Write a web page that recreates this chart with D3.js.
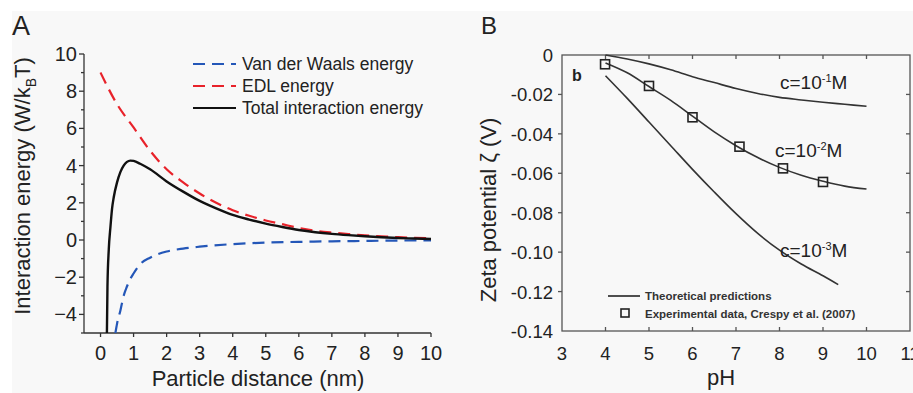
<!DOCTYPE html>
<html>
<head>
<meta charset="utf-8">
<script src="https://cdn.jsdelivr.net/npm/d3@7"></script>
<style>
  body { margin: 0; background: #fff; }
  svg { display: block; font-family: "Liberation Sans", Arial, sans-serif; }
</style>
</head>
<body>
<script>

// ---- panel A data ----
var distTicks = [0, 1, 2, 3, 4, 5, 6, 7, 8, 9, 10];
var energyTicks = [-4, -2, 0, 2, 4, 6, 8, 10];
var energyMinor = [-5, -3, -1, 1, 3, 5, 7, 9];

var vdwX = [0.45, 0.5, 0.6, 0.7, 0.8, 0.9, 1.0, 1.2, 1.5, 2, 2.5, 3, 4, 5, 6, 7, 8, 9, 10];
var vdwY = [-5.0, -4.5, -3.8, -3.0, -2.5, -2.1, -1.8, -1.3, -0.95, -0.62, -0.46, -0.36, -0.22, -0.14, -0.1, -0.07, -0.05, -0.03, -0.02];

var edlX = [0, 0.5, 1, 1.5, 2, 2.5, 3, 3.5, 4, 4.5, 5, 5.5, 6, 6.5, 7, 7.5, 8, 8.5, 9, 9.5, 10];
var edlY = [9.0, 7.3, 6.05, 4.8, 3.8, 3.1, 2.5, 2.0, 1.6, 1.3, 1.05, 0.85, 0.65, 0.5, 0.4, 0.32, 0.25, 0.2, 0.15, 0.12, 0.09];

var totalX = [0.19, 0.21, 0.25, 0.3, 0.35, 0.4, 0.5, 0.6, 0.7, 0.8, 0.9, 1.0, 1.2, 1.5, 2, 2.5, 3, 3.5, 4, 4.5, 5, 5.5, 6, 6.5, 7, 7.5, 8, 8.5, 9, 9.5, 10];
var totalY = [-5.5, -2.5, -0.5, 0.7, 1.7, 2.3, 3.1, 3.65, 4.0, 4.2, 4.27, 4.25, 4.1, 3.8, 3.15, 2.6, 2.1, 1.7, 1.35, 1.1, 0.88, 0.7, 0.54, 0.42, 0.33, 0.26, 0.2, 0.15, 0.11, 0.08, 0.05];

// ---- panel B data ----
var phTicks = [3, 4, 5, 6, 7, 8, 9, 10, 11];
var zetaTicks = [0, -0.02, -0.04, -0.06, -0.08, -0.10, -0.12, -0.14];
var zetaLabels = ["0", "-0.02", "-0.04", "-0.06", "-0.08", "-0.10", "-0.12", "-0.14"];

var phLine = [4, 4.5, 5, 5.5, 6, 6.5, 7, 7.5, 8, 8.5, 9, 9.5, 10];
var zeta1 = [0, -0.002, -0.0045, -0.0075, -0.011, -0.014, -0.017, -0.0195, -0.0215, -0.0228, -0.024, -0.025, -0.026];
var zeta2 = [-0.004, -0.009, -0.016, -0.023, -0.031, -0.039, -0.046, -0.052, -0.057, -0.061, -0.064, -0.0665, -0.068];
var phLine3 = [4, 4.5, 5, 5.5, 6, 6.5, 7, 7.5, 8, 8.5, 9, 9.35];
var zeta3 = [-0.0105, -0.022, -0.034, -0.046, -0.058, -0.0695, -0.0805, -0.0905, -0.099, -0.106, -0.112, -0.1165];

var expPh = [3.99, 5.0, 6.0, 7.08, 8.08, 9.0];
var expZeta = [-0.0047, -0.0157, -0.0316, -0.0465, -0.0575, -0.0644];

var width = 913, height = 393;

var svg = d3.select("body").append("svg")
    .attr("width", width)
    .attr("height", height);

// light gray figure background
svg.append("rect")
    .attr("x", 12).attr("y", 11)
    .attr("width", width - 12).attr("height", height - 11)
    .attr("fill", "#f8f8f8");

var textColor = "#222";

function pairs(xs, ys) {
    return xs.map(function(x, i) { return [x, ys[i]]; });
}

// ======================= panel A =======================
var xA = d3.scaleLinear().domain([-0.5, 10]).range([84, 431]);
var yA = d3.scaleLinear().domain([-5, 10]).range([333, 54]);

svg.append("text")
    .attr("x", 12).attr("y", 35)
    .style("font-size", "27px")
    .attr("fill", textColor)
    .text("A");

svg.append("clipPath").attr("id", "clipA")
  .append("rect")
    .attr("x", 84).attr("y", 54)
    .attr("width", 360).attr("height", 333 - 54);

var axisA = svg.append("g").attr("stroke", "#333").attr("stroke-width", 1.3);

// y axis
axisA.append("line")
    .attr("x1", xA.range()[0]).attr("x2", xA.range()[0])
    .attr("y1", yA(-5)).attr("y2", yA(10));
axisA.selectAll(".ymaj").data(energyTicks).enter().append("line")
    .attr("x1", 84).attr("x2", 79)
    .attr("y1", function(d) { return yA(d); })
    .attr("y2", function(d) { return yA(d); });
axisA.selectAll(".ymin").data(energyMinor).enter().append("line")
    .attr("x1", 84).attr("x2", 81)
    .attr("y1", function(d) { return yA(d); })
    .attr("y2", function(d) { return yA(d); });

// x axis
axisA.append("line")
    .attr("x1", xA(-0.5)).attr("x2", xA(10))
    .attr("y1", yA(-5)).attr("y2", yA(-5));
axisA.selectAll(".xmaj").data(distTicks).enter().append("line")
    .attr("x1", function(d) { return xA(d); })
    .attr("x2", function(d) { return xA(d); })
    .attr("y1", yA(-5)).attr("y2", yA(-5) + 4);

svg.append("g").selectAll("text").data(energyTicks).enter().append("text")
    .attr("x", 77)
    .attr("y", function(d) { return yA(d) + 7; })
    .attr("text-anchor", "end")
    .style("font-size", "20px")
    .attr("fill", textColor)
    .text(function(d) { return d < 0 ? "\u2212" + (-d) : d; });

svg.append("g").selectAll("text").data(distTicks).enter().append("text")
    .attr("x", function(d) { return xA(d); })
    .attr("y", 360)
    .attr("text-anchor", "middle")
    .style("font-size", "20px")
    .attr("fill", textColor)
    .text(function(d) { return d; });

svg.append("text")
    .attr("x", 258).attr("y", 386)
    .attr("text-anchor", "middle")
    .style("font-size", "22px")
    .attr("fill", textColor)
    .text("Particle distance (nm)");

var ylabA = svg.append("text")
    .attr("transform", "translate(30,186) rotate(-90)")
    .attr("text-anchor", "middle")
    .style("font-size", "22px")
    .attr("fill", textColor);
ylabA.append("tspan").text("Interaction energy (W/k");
ylabA.append("tspan").attr("dy", 6).style("font-size", "14px").text("B");
ylabA.append("tspan").attr("dy", -6).text("T)");

var lineA = d3.line()
    .x(function(d) { return xA(d[0]); })
    .y(function(d) { return yA(d[1]); })
    .curve(d3.curveMonotoneX);

var gA = svg.append("g").attr("clip-path", "url(#clipA)");

gA.append("path")
    .attr("d", lineA(pairs(vdwX, vdwY)))
    .attr("fill", "none")
    .attr("stroke", "#2457b8")
    .attr("stroke-width", 2.2)
    .attr("stroke-dasharray", "12,7");

gA.append("path")
    .attr("d", lineA(pairs(edlX, edlY)))
    .attr("fill", "none")
    .attr("stroke", "#e8222a")
    .attr("stroke-width", 2.2)
    .attr("stroke-dasharray", "12,7");

gA.append("path")
    .attr("d", lineA(pairs(totalX, totalY)))
    .attr("fill", "none")
    .attr("stroke", "#111")
    .attr("stroke-width", 2.4);

// legend A
var legA = [
    {name: "Van der Waals energy", color: "#2457b8", dash: "12,7"},
    {name: "EDL energy", color: "#e8222a", dash: "12,7"},
    {name: "Total interaction energy", color: "#111", dash: "none"}
];
var legAg = svg.append("g").selectAll("g").data(legA).enter().append("g")
    .attr("transform", function(d, i) { return "translate(193," + (64 + i * 22) + ")"; });
legAg.append("line")
    .attr("x1", 0).attr("x2", 43)
    .attr("stroke", function(d) { return d.color; })
    .attr("stroke-width", 2.2)
    .attr("stroke-dasharray", function(d) { return d.dash; });
legAg.append("text")
    .attr("x", 49).attr("y", 6)
    .style("font-size", "17.5px")
    .attr("fill", textColor)
    .text(function(d) { return d.name; });

// ======================= panel B =======================
var xB = d3.scaleLinear().domain([3, 11]).range([562, 910]);
var yB = d3.scaleLinear().domain([-0.14, 0]).range([331, 55]);

svg.append("text")
    .attr("x", 481).attr("y", 34)
    .style("font-size", "24px")
    .attr("fill", textColor)
    .text("B");

var axisB = svg.append("g").attr("stroke", "#555").attr("stroke-width", 1.3);

axisB.append("rect")
    .attr("x", xB(3)).attr("y", yB(0))
    .attr("width", xB(11) - xB(3)).attr("height", yB(-0.14) - yB(0))
    .attr("fill", "none");

var innerPh = phTicks.slice(1, -1);
var innerZeta = zetaTicks.slice(1, -1);

// bottom and top ticks point inward
axisB.selectAll(".bt").data(innerPh).enter().append("line")
    .attr("x1", function(d) { return xB(d); })
    .attr("x2", function(d) { return xB(d); })
    .attr("y1", yB(-0.14)).attr("y2", yB(-0.14) - 4);
axisB.selectAll(".tt").data(innerPh).enter().append("line")
    .attr("x1", function(d) { return xB(d); })
    .attr("x2", function(d) { return xB(d); })
    .attr("y1", yB(0)).attr("y2", yB(0) + 4);
// left ticks outward, right ticks inward
axisB.selectAll(".lt").data(innerZeta).enter().append("line")
    .attr("x1", xB(3)).attr("x2", xB(3) - 4)
    .attr("y1", function(d) { return yB(d); })
    .attr("y2", function(d) { return yB(d); });
axisB.selectAll(".rt").data(innerZeta).enter().append("line")
    .attr("x1", xB(11)).attr("x2", xB(11) - 4)
    .attr("y1", function(d) { return yB(d); })
    .attr("y2", function(d) { return yB(d); });

svg.append("g").selectAll("text").data(zetaTicks).enter().append("text")
    .attr("x", 553)
    .attr("y", function(d) { return yB(d) + 7; })
    .attr("text-anchor", "end")
    .style("font-size", "18.5px")
    .attr("fill", textColor)
    .text(function(d, i) { return zetaLabels[i]; });

svg.append("g").selectAll("text").data(phTicks).enter().append("text")
    .attr("x", function(d) { return xB(d); })
    .attr("y", 360)
    .attr("text-anchor", "middle")
    .style("font-size", "18.5px")
    .attr("fill", textColor)
    .text(function(d) { return d; });

svg.append("text")
    .attr("x", 721).attr("y", 385)
    .attr("text-anchor", "middle")
    .style("font-size", "22px")
    .attr("fill", textColor)
    .text("pH");

svg.append("text")
    .attr("transform", "translate(496,210) rotate(-90)")
    .attr("text-anchor", "middle")
    .style("font-size", "22px")
    .attr("fill", textColor)
    .text("Zeta potential \u03b6 (V)");

svg.append("text")
    .attr("x", 572).attr("y", 81)
    .style("font-size", "16px")
    .style("font-weight", "bold")
    .attr("fill", textColor)
    .text("b");

var lineB = d3.line()
    .x(function(d) { return xB(d[0]); })
    .y(function(d) { return yB(d[1]); })
    .curve(d3.curveCatmullRom);

var gB = svg.append("g");
[pairs(phLine, zeta1), pairs(phLine, zeta2), pairs(phLine3, zeta3)].forEach(function(pts) {
    gB.append("path")
        .attr("d", lineB(pts))
        .attr("fill", "none")
        .attr("stroke", "#333")
        .attr("stroke-width", 1.6);
});

gB.selectAll("rect.exp").data(pairs(expPh, expZeta)).enter().append("rect")
    .attr("class", "exp")
    .attr("x", function(d) { return xB(d[0]) - 4.5; })
    .attr("y", function(d) { return yB(d[1]) - 4.5; })
    .attr("width", 9).attr("height", 9)
    .attr("fill", "none")
    .attr("stroke", "#222")
    .attr("stroke-width", 1.6);

// concentration labels
var concs = [
    {exp: "-1", x: 780, y: 89},
    {exp: "-2", x: 775, y: 157},
    {exp: "-3", x: 780, y: 257}
];
concs.forEach(function(c) {
    var t = svg.append("text")
        .attr("x", c.x).attr("y", c.y)
        .style("font-size", "19px")
        .attr("fill", textColor);
    t.append("tspan").text("c=10");
    t.append("tspan").attr("dy", -7).style("font-size", "11px").text(c.exp);
    t.append("tspan").attr("dy", 7).text("M");
});

// legend B
svg.append("line")
    .attr("x1", 608).attr("x2", 640)
    .attr("y1", 296).attr("y2", 296)
    .attr("stroke", "#222").attr("stroke-width", 1.6);
svg.append("text")
    .attr("x", 645).attr("y", 300)
    .style("font-size", "11.5px")
    .style("font-weight", "bold")
    .attr("fill", "#333")
    .text("Theoretical predictions");
svg.append("rect")
    .attr("x", 621).attr("y", 309)
    .attr("width", 8).attr("height", 8)
    .attr("fill", "none")
    .attr("stroke", "#222").attr("stroke-width", 1.6);
svg.append("text")
    .attr("x", 645).attr("y", 318)
    .style("font-size", "11.5px")
    .style("font-weight", "bold")
    .attr("fill", "#333")
    .text("Experimental data, Crespy et al. (2007)");

</script>
</body>
</html>
